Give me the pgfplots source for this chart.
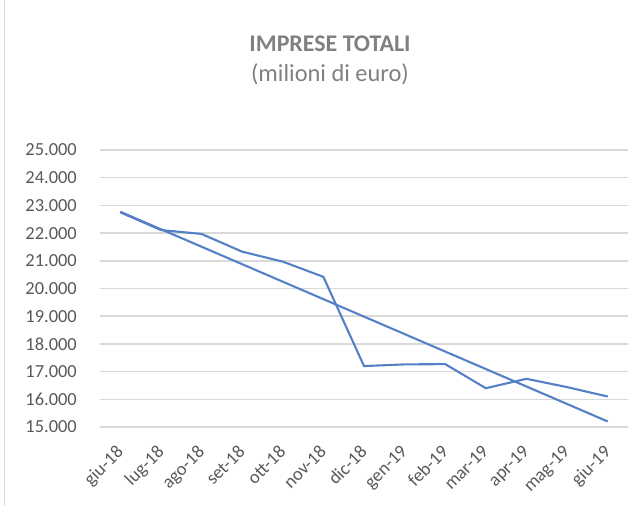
\documentclass[border=0pt]{standalone}
\usepackage{pgfplots}
\pgfplotsset{compat=1.18}
\usepackage{fontspec}
\setmainfont{Carlito}
\definecolor{serie}{HTML}{5680C6}
\definecolor{griglia}{HTML}{D9D9D9}
\definecolor{testo}{HTML}{595959}
\definecolor{titolo}{HTML}{808080}
\begin{document}
\begin{tikzpicture}
\useasboundingbox (-100bp,-79bp) rectangle (543bp,427bp);
\draw[griglia, line width=1bp] (-95bp,-79bp) -- (-95bp,427bp);
\begin{axis}[
  scale only axis,
  width=528bp, height=277bp,
  at={(0,0)}, anchor=south west,
  xmin=-0.5, xmax=12.5,
  ymin=15000, ymax=25000,
  ytick={15000,16000,...,25000},
  xtick={0,...,12},
  xticklabels={giu-18,lug-18,ago-18,set-18,ott-18,nov-18,dic-18,gen-19,feb-19,mar-19,apr-19,mag-19,giu-19},
  scaled y ticks=false,
  /pgf/number format/.cd, 1000 sep={.}, fixed, precision=0, assume math mode=true,
  /pgfplots/.cd,
  axis line style={draw=none},
  tick style={draw=none},
  ymajorgrids,
  grid style={griglia, line width=1.5bp},
  ticklabel style={font=\fontsize{18.5}{20}\selectfont, text=testo},
  yticklabel style={inner sep=0pt, xshift=-23bp},
  xticklabel style={inner sep=0pt, xshift=-5bp, yshift=-17bp, rotate=45, anchor=north east},
  clip=false,
]
\addplot[serie, line width=2.1bp] table {
x y
0 22750
1 22110
2 21970
3 21330
4 20970
5 20420
6 17200
7 17260
8 17270
9 16400
10 16740
11 16440
12 16100
};
\addplot[serie, line width=2.1bp] table {
x y
0 22770
12 15200
};
\end{axis}
\node[anchor=base, text=titolo, font=\fontsize{24}{26}\selectfont\bfseries] at (230bp,375bp) {IMPRESE TOTALI};
\node[anchor=base, text=titolo, font=\fontsize{24.5}{26}\selectfont] at (230bp,345bp) {(milioni di euro)};
\end{tikzpicture}
\end{document}
